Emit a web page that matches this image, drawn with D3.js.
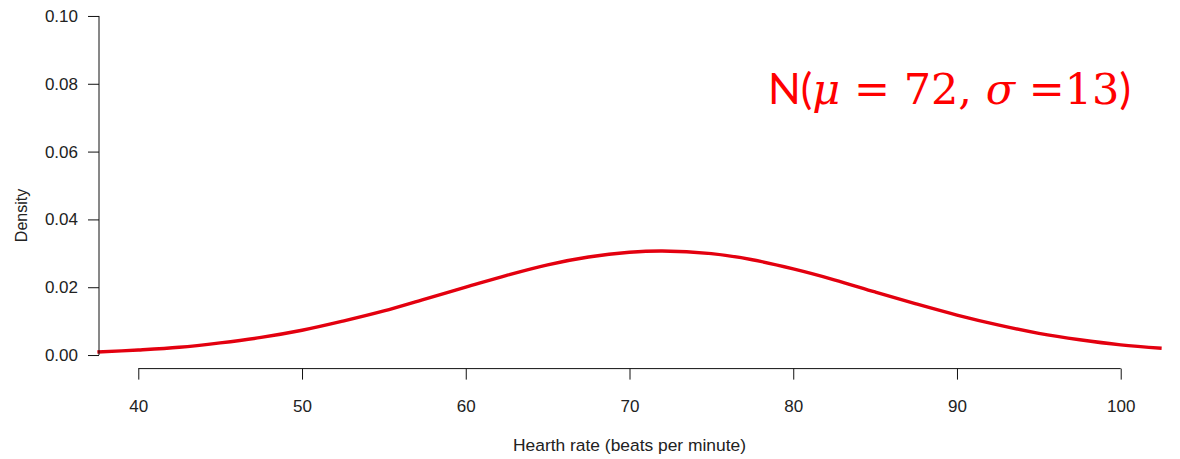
<!DOCTYPE html>
<html>
<head>
<meta charset="utf-8">
<script src="https://cdn.jsdelivr.net/npm/d3@7"></script>
<style>
  html, body { margin: 0; padding: 0; background: #fff; }
  svg { display: block; }
  text { font-family: "Liberation Sans", Arial, sans-serif; fill: #222; }
</style>
</head>
<body>
<svg id="chart" width="1180" height="459"></svg>
<script>
// Heart-rate values (beats per minute) and the density read at each one
const heartRate = [37.5, 40, 42.5, 45, 47.5, 50, 52.5, 55, 57.5, 60, 62.5, 65, 67.5, 70, 72,
                   75, 77.5, 80, 82.5, 85, 87.5, 90, 92.5, 95, 97.5, 100, 102.5];
const density   = [0.0009, 0.0015, 0.0023, 0.0036, 0.0052, 0.0073, 0.0100, 0.0130, 0.0165, 0.0200, 0.0235, 0.0266, 0.0289, 0.0303, 0.0307,
                   0.0299, 0.0281, 0.0254, 0.0222, 0.0186, 0.0151, 0.0118, 0.0089, 0.0064, 0.0045, 0.0030, 0.0020];
const xTicks = [40, 50, 60, 70, 80, 90, 100];
const yTicks = [0.00, 0.02, 0.04, 0.06, 0.08, 0.10];
const xTitle = "Hearth rate (beats per minute)";
const yTitle = "Density";

const svg = d3.select("#chart");

// Plot region (R-style: limits padded by 4% on each side)
const plot = { left: 99, right: 1160, top: 2.4, bottom: 368.6 };
const xLim = [40, 100], yLim = [0, 0.10];
const padX = (xLim[1] - xLim[0]) * 0.04, padY = (yLim[1] - yLim[0]) * 0.04;

const x = d3.scaleLinear().domain([xLim[0] - padX, xLim[1] + padX]).range([plot.left, plot.right]);
const y = d3.scaleLinear().domain([yLim[0] - padY, yLim[1] + padY]).range([plot.bottom, plot.top]);

// Density curve
const pts = heartRate.map((h, i) => ({ h, d: density[i] }));
svg.append("path")
  .datum(pts)
  .attr("fill", "none")
  .attr("stroke", "#e3000f")
  .attr("stroke-width", 3.4)
  .attr("stroke-linejoin", "round")
  .attr("d", d3.line().x(p => x(p.h)).y(p => y(p.d)).curve(d3.curveCatmullRom.alpha(0.5)));

// X axis
const xAxis = svg.append("g")
  .attr("transform", `translate(0,${plot.bottom})`)
  .call(d3.axisBottom(x).tickValues(xTicks).tickSize(11).tickSizeOuter(0).tickPadding(20).tickFormat(d3.format("d")));
xAxis.select(".domain").attr("d", `M${x(xTicks[0])},0H${x(xTicks[xTicks.length - 1])}`);

// Y axis
const yAxis = svg.append("g")
  .attr("transform", `translate(${plot.left},0)`)
  .call(d3.axisLeft(y).tickValues(yTicks).tickSize(11).tickSizeOuter(0).tickPadding(10).tickFormat(d3.format(".2f")));
yAxis.select(".domain").attr("d", `M0,${y(yTicks[0])}V${y(yTicks[yTicks.length - 1])}`);

[xAxis, yAxis].forEach(g => {
  g.selectAll(".domain, .tick line").attr("stroke", "#111").attr("stroke-width", 1);
  g.selectAll(".tick text").attr("font-size", 17).attr("fill", "#222")
    .attr("font-family", "Liberation Sans, Arial, sans-serif");
});

// Axis titles
svg.append("text")
  .attr("x", (plot.left + plot.right) / 2).attr("y", 451)
  .attr("text-anchor", "middle").attr("font-size", 17.4)
  .text(xTitle);
svg.append("text")
  .attr("transform", `translate(27,${y(0.05) + 30}) rotate(-90)`)
  .attr("text-anchor", "middle").attr("font-size", 16)
  .text(yTitle);

// Distribution label
const serif = "'DejaVu Serif', 'Liberation Serif', serif";
const label = svg.append("text")
  .attr("x", 768).attr("y", 104)
  .attr("font-size", 43)
  .style("fill", "#ff0000");
const part = (txt, family, italic) => label.append("tspan")
  .attr("font-family", family)
  .attr("font-style", italic ? "italic" : "normal")
  .style("fill", "#ff0000")
  .text(txt);
part("N(", "Lato, 'Open Sans', sans-serif", false);
part("μ", serif, true);
part(" = 72,", serif, false);
part(" σ", serif, true);
part(" =13", serif, false);
part(")", "Lato, 'Open Sans', sans-serif", false);
</script>
</body>
</html>
